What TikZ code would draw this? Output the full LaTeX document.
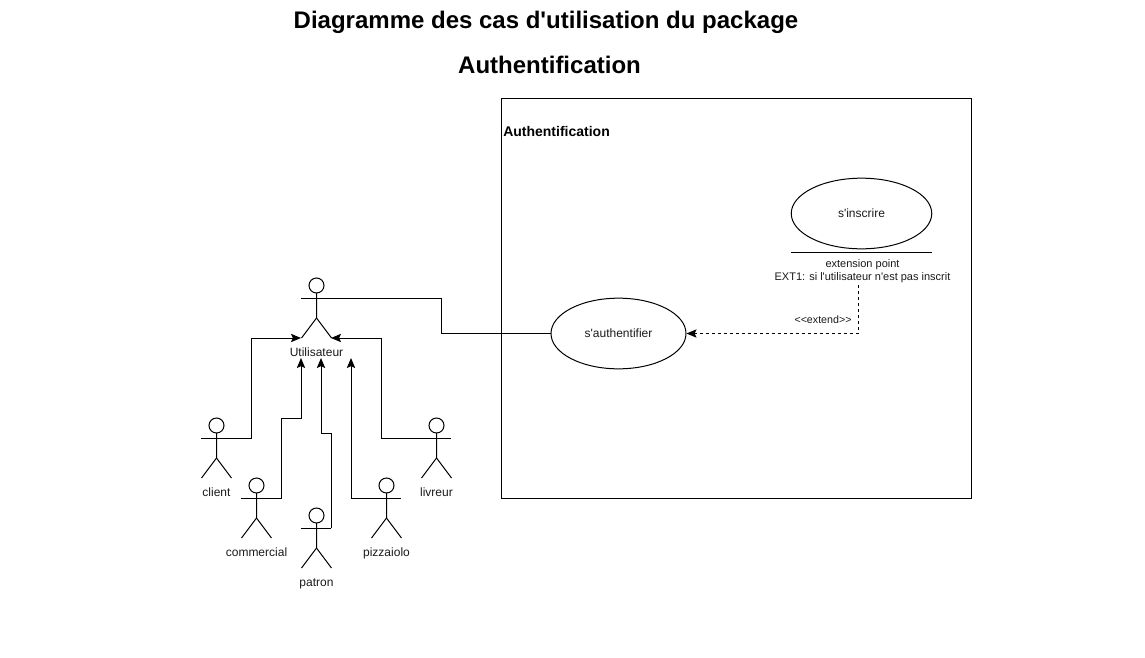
\documentclass[tikz,border=0pt]{standalone}
\usepackage{fontspec}
\setmainfont{Liberation Sans}[Ligatures=TeXOff]
\usetikzlibrary{shapes.geometric,arrows.meta}
\definecolor{ucline}{HTML}{000000}
\definecolor{uctext}{HTML}{1A1A1A}
\tikzset{
  ucedge/.style={draw=ucline,line width=0.75pt},
  uctip/.style={ucedge,-{Stealth[length=7.5pt,width=6.2pt,inset=1.4pt]}},
  usecase/.style={draw=ucline,line width=0.75pt,ellipse,inner sep=0pt,font=\fontsize{9}{11}\selectfont,text=uctext},
  actorname/.style={inner sep=0pt,font=\fontsize{9}{11}\selectfont,text=uctext},
}

\begin{document}
\begin{tikzpicture}[x=0.75pt,y=-0.75pt]
  \useasboundingbox (0,0) rectangle (1145,657);
  \node[inner sep=0pt,font=\bfseries\fontsize{18}{22}\selectfont] (titlea) at (546,22) {Diagramme des cas d'utilisation du package};
  \node[inner sep=0pt,font=\bfseries\fontsize{18}{22}\selectfont] (titleb) at (549.5,65) {Authentification};
  % package
  \node[draw=ucline,line width=0.75pt,minimum width=352.5pt,minimum height=300pt,inner sep=0pt] (pack) at (736,298) {};
  \node[inner sep=0pt,anchor=west,font=\bfseries\fontsize{10.5}{12}\selectfont] (packname) at (503,131) {Authentification};
  % use cases
  \node[usecase,minimum width=105.4pt,minimum height=53pt] (sinscrire) at (861.5,213.5) {\raisebox{-0.6pt}{s'inscrire}};
  \node[usecase,minimum width=101.25pt,minimum height=53pt] (sauth) at (618.5,333.5) {s'authentifier};
  \coordinate (rulel) at (791,252.5);
  \coordinate (ruler) at (931.5,252.5);
  \draw[ucedge] (rulel) -- (ruler);
  \node[inner sep=0pt,align=center,font=\fontsize{8.25}{9.75}\selectfont,text=uctext] (extpoint) at (862.5,271.5) {extension point\\EXT1: si l'utilisateur n'est pas inscrit};
  % actors
  \foreach \a/\x/\y/\t in {utilisateur/316/278/Utilisateur,client/216/418/client,commercial/256/478/commercial,patron/316/508/patron,pizzaiolo/386/478/pizzaiolo,livreur/436/418/livreur}{
    \draw[ucedge] (\x+0.5,\y+7.5) circle (7.5);
    \draw[ucedge] (\x+0.5,\y+15) -- (\x+0.5,\y+40) -- (\x-14.5,\y+60);
    \draw[ucedge] (\x+0.5,\y+40) -- (\x+15.5,\y+60);
    \coordinate (\a-l) at (\x-15,\y+20);
    \coordinate (\a-r) at (\x+15,\y+20);
    \coordinate (\a-fl) at (\x-15,\y+60);
    \coordinate (\a-fr) at (\x+15,\y+60);
    \draw[ucedge] (\a-l) -- (\a-r);
    \node[actorname,anchor=base] (\a) at (\x+0.5,\y+78.5) {\t};
  }
  % generalisations
  \coordinate (tipcom) at (301,358);
  \coordinate (tippat) at (321,358);
  \coordinate (tippiz) at (351,358);
  \coordinate (kneecom) at (281,418);
  \coordinate (kneepat) at (331,433);
  \draw[uctip] (client-r) -| (251,338) -- (utilisateur-fl);
  \draw[uctip] (commercial-r) -| (kneecom) -| (tipcom);
  \draw[uctip] (patron-r) -| (kneepat) -| (tippat);
  \draw[uctip] (pizzaiolo-l) -| (tippiz);
  \draw[uctip] (livreur-l) -| (381,338) -- (utilisateur-fr);
  \coordinate (kneeauth) at (441,298);
  \draw[ucedge] (utilisateur-r) -- (kneeauth) |- (sauth.west);
  % extend
  \coordinate (extfoot) at (858,285);
  \draw[uctip,dash pattern=on 2.25pt off 2.25pt] (extfoot) |- (sauth.east);
  \node[inner sep=0pt,font=\fontsize{8}{9}\selectfont,text=uctext] (extendname) at (823,319.5) {<<extend>>};
\end{tikzpicture}
\end{document}
